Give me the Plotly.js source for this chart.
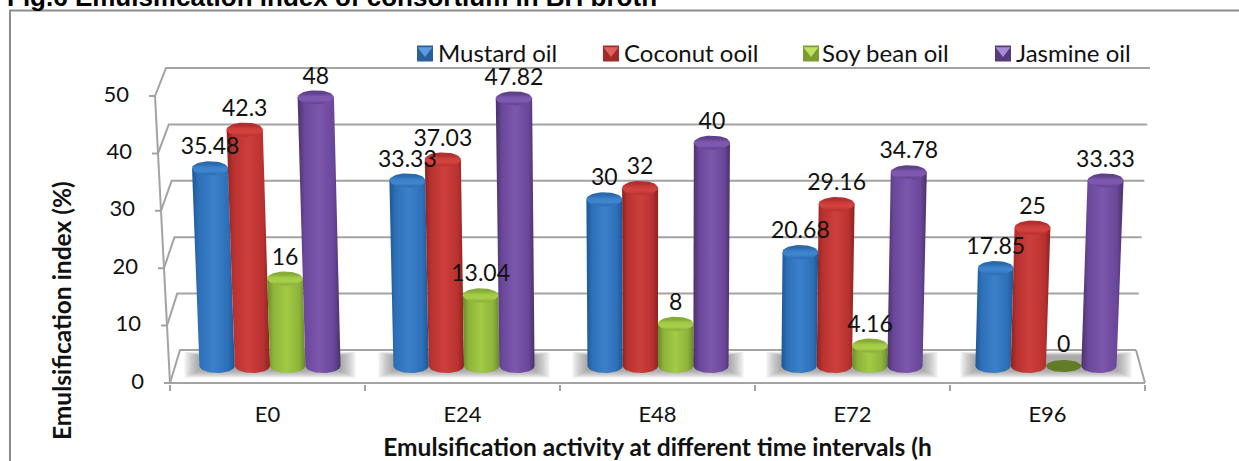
<!DOCTYPE html>
<html>
<head>
<meta charset="utf-8">
<script src="https://cdn.plot.ly/plotly-3.0.1.min.js"></script>
<style>html,body{margin:0;padding:0;background:#fff;overflow:hidden}#chart{width:1239px;height:461px}</style>
</head>
<body>
<div id="chart"></div>
<script>
// Emulsification index per oil over time
const categories = ['E0', 'E24', 'E48', 'E72', 'E96'];
const seriesNames = ['Mustard oil', 'Coconut ooil', 'Soy bean oil', 'Jasmine oil'];
const mustardOil = [35.48, 33.33, 30, 20.68, 17.85];
const coconutOil = [42.3, 37.03, 32, 29.16, 25];
const soyBeanOil = [16, 13.04, 8, 4.16, 0];
const jasmineOil = [48, 47.82, 40, 34.78, 33.33];
const axisValues = [0, 10, 20, 30, 40, 50];

const seriesValues = [mustardOil, coconutOil, soyBeanOil, jasmineOil];
const palette = [
  {edge: '#1d5796', mid: '#2d70b8', lit: '#3b80ca', cap: '#3f86cf', capDark: '#2a69ad', swatch: '#2b5f99', flap: '#5b9bdc'},
  {edge: '#8c2321', mid: '#b93230', lit: '#cd3f3c', cap: '#d4423f', capDark: '#b22f2d', swatch: '#a02c2a', flap: '#e0605c'},
  {edge: '#6a8a28', mid: '#8db33a', lit: '#a2cb45', cap: '#a8d04a', capDark: '#86ab36', swatch: '#7c9c32', flap: '#bfe060'},
  {edge: '#4a3269', mid: '#6a479a', lit: '#7c57ad', cap: '#8059b2', capDark: '#5f4189', swatch: '#553b7c', flap: '#a98ad8'}
];

// Page geometry, in pixels: the floor's front edge spans frontL..frontR at frontY,
// and the value 50 sits at value50Y on the front plane
const W = 1239, H = 461;
const frontL = 170, frontR = 1145, frontY = 383, value50Y = 96;
const plotL = 76, plotB = 384;
const unitX = (frontR - frontL) / categories.length;
const unitY = (frontY - value50Y) / 50;
const toX = px => (px - frontL) / unitX - 0.5;
const toY = py => (frontY - py) / unitY;
const paperX = px => (px - plotL) / (W - plotL);
const paperY = py => (plotB - py) / plotB;

// Projection used for the pseudo three-dimensional look
const vanishX = 658;
const lean = 4.47e-4;
const barFootY = 366, barZeroY = 369, barUnitY = 5.66, barPitch = 35.3, groupPitch = 194, groupStart = 270;
const capRy = 7;
const barTopY = v => Math.min(barFootY, barZeroY - barUnitY * v);

const grey = '#a3a3a3';
const traces = [];

function line(xs, ys, width) {
  traces.push({type: 'scatter', mode: 'lines', x: xs.map(toX), y: ys.map(toY),
    line: {color: grey, width: width || 2}, showlegend: false, hoverinfo: 'skip'});
}

// Walls and floor
axisValues.forEach(v => {
  const fx = frontL - 0.3 * v, fy = frontY - unitY * v;
  const bx = 180 - 0.28 * v, by = 350 - 5.64 * v;
  const rx = 1136 + 0.28 * v;
  line([fx - 6, fx, bx, rx], [fy, fy, by, by]);
});
line([frontL, frontL - 15], [frontY, value50Y]);
line([1136, frontR], [350, frontY]);
line([frontL, frontR], [frontY, frontY]);

// Cylinders
function ellipse(cx, cy, rx, ry, from, to, n) {
  const pts = {x: [], y: []};
  for (let i = 0; i <= n; i++) {
    const a = from + (to - from) * i / n;
    pts.x.push(cx + rx * Math.cos(a));
    pts.y.push(cy + ry * Math.sin(a));
  }
  return pts;
}

seriesValues.forEach((vals, s) => {
  const c = palette[s];
  vals.forEach((v, g) => {
    const baseX = groupStart + groupPitch * g + (s - 1.5) * barPitch;
    const topX = baseX + (baseX - vanishX) * lean * v;
    const topY = barTopY(v);
    const rBase = 17.6, rTop = 17.6 + 0.012 * v;

    if (v > 0) {
      const bottom = ellipse(baseX, barFootY, rBase, capRy, 0, Math.PI, 24);
      const px = [topX - rTop, topX + rTop].concat(bottom.x);
      const py = [topY, topY].concat(bottom.y);
      px.push(px[0]); py.push(py[0]);
      traces.push({type: 'scatter', mode: 'lines', x: px.map(toX), y: py.map(toY),
        fill: 'toself', line: {width: 0, color: c.mid},
        fillgradient: {type: 'horizontal', colorscale: [[0, c.edge], [0.16, c.mid], [0.5, c.lit], [0.84, c.mid], [1, c.edge]]},
        showlegend: false, hoverinfo: 'skip'});
    }

    const capPts = ellipse(topX, topY, rTop, v > 0 ? capRy : 6, 0, 2 * Math.PI, 48);
    const cap = {type: 'scatter', mode: 'lines', x: capPts.x.map(toX), y: capPts.y.map(toY),
      fill: 'toself', line: {width: 0, color: c.cap}, showlegend: false, hoverinfo: 'skip'};
    if (v > 0) {
      cap.fillgradient = {type: 'vertical', colorscale: [[0, c.capDark], [0.3, c.cap], [0.55, c.lit], [0.8, c.capDark], [1, c.capDark]]};
    } else {
      cap.fillcolor = '#617c25';
    }
    traces.push(cap);
  });
});

// Value labels
seriesValues.forEach((vals, s) => {
  const xs = [], ys = [];
  vals.forEach((v, g) => {
    const baseX = groupStart + groupPitch * g + (s - 1.5) * barPitch;
    xs.push(toX(baseX + (baseX - vanishX) * lean * v));
    ys.push(toY(barTopY(v) - 19.5));
  });
  traces.push({type: 'scatter', mode: 'text', x: xs, y: ys, text: vals.map(String), cliponaxis: false,
    textposition: 'middle center', textfont: {family: 'Lato', size: 23, color: '#111'},
    showlegend: false, hoverinfo: 'skip'});
});

// Value axis labels follow the slanted front edge
traces.push({type: 'scatter', mode: 'text', cliponaxis: false,
  x: axisValues.map(v => toX(frontL - 0.3 * v - 26)), y: axisValues,
  text: axisValues.map(String), textposition: 'middle left',
  textfont: {family: 'Lato', size: 22, color: '#111'}, showlegend: false, hoverinfo: 'skip'});

// Legend row: bevelled swatch followed by the series name
const legendSwatchX = [425, 611, 811, 1003];
const legendTextX = [438, 624, 822, 1016];
const legendY = 53.5;
seriesNames.forEach((name, s) => {
  const lx = [toX(legendSwatchX[s])];
  traces.push({type: 'scatter', mode: 'markers', x: lx, y: [toY(legendY)], showlegend: false, hoverinfo: 'skip',
    marker: {symbol: 'square', size: 16, color: palette[s].swatch, line: {width: 0}}});
  traces.push({type: 'scatter', mode: 'markers', x: lx, y: [toY(legendY - 3)], showlegend: false, hoverinfo: 'skip',
    marker: {symbol: 'triangle-down', size: 13, color: palette[s].flap, line: {width: 0}}});
  traces.push({type: 'scatter', mode: 'text', x: [toX(legendTextX[s])], y: [toY(legendY + 2)], text: [name],
    textposition: 'middle right', textfont: {family: 'Lato', size: 24, color: '#111'},
    showlegend: false, hoverinfo: 'skip'});
});

// Soft floor shadow under each group, built from stacked translucent rectangles
const shapes = [];
categories.forEach((_, g) => {
  const cx = groupStart + groupPitch * g;
  const steps = 14;
  for (let i = 0; i < steps; i++) {
    const inset = i * 1.1;
    shapes.push({type: 'rect', layer: 'below', xref: 'x', yref: 'y',
      x0: toX(cx - 86 + inset), x1: toX(cx + 86 - inset),
      y0: toY(378 - inset * 0.5), y1: toY(352 + inset * 0.25),
      fillcolor: 'rgba(110,110,110,0.055)', line: {width: 0}});
  }
});

// Outer frame, running off the right and bottom edges of the page
shapes.push({type: 'path', xref: 'paper', yref: 'paper', layer: 'below',
  path: `M${paperX(10)},${paperY(H + 5)} L${paperX(10)},${paperY(10.5)} L${paperX(W + 5)},${paperY(10.5)}`,
  line: {color: '#8c8c8c', width: 2}});

const layout = {
  width: W, height: H,
  paper_bgcolor: '#fff', plot_bgcolor: 'rgba(0,0,0,0)',
  margin: {l: plotL, r: 0, t: 0, b: H - plotB},
  title: {text: 'Fig.6 Emulsification index of consortium in BH broth',
    x: 7 / W, xref: 'container', xanchor: 'left', y: 1, yref: 'container', yanchor: 'bottom', pad: {b: -6},
    font: {family: 'Liberation Sans', size: 26, color: '#000', weight: 'bold'}},
  xaxis: {range: [toX(plotL), toX(W)], tickmode: 'array', tickvals: categories.map((_, i) => i), ticktext: categories,
    showgrid: false, zeroline: false, showline: false,
    ticks: '', ticklabelstandoff: 15,
    minor: {tickmode: 'array', tickvals: [-0.5, 0.5, 1.5, 2.5, 3.5, 4.5], ticks: 'outside', ticklen: 6, tickwidth: 2, tickcolor: grey, showgrid: false},
    tickfont: {family: 'Lato', size: 22, color: '#111'},
    title: {text: 'Emulsification activity at different time intervals (h', standoff: 12,
      font: {family: 'Lato', size: 24.5, color: '#111', weight: 'bold'}}},
  yaxis: {range: [toY(plotB), toY(0)], showgrid: false, zeroline: false, showline: false, ticks: '', showticklabels: false},
  annotations: [{text: 'Emulsification index (%)', textangle: -90, xref: 'paper', yref: 'paper',
    x: paperX(61), y: paperY(311), showarrow: false, xanchor: 'center', yanchor: 'middle',
    font: {family: 'Lato', size: 24.5, color: '#111', weight: 'bold'}}],
  shapes: shapes,
  showlegend: false
};

Plotly.newPlot('chart', traces, layout, {displayModeBar: false, staticPlot: true});
</script>
</body>
</html>
